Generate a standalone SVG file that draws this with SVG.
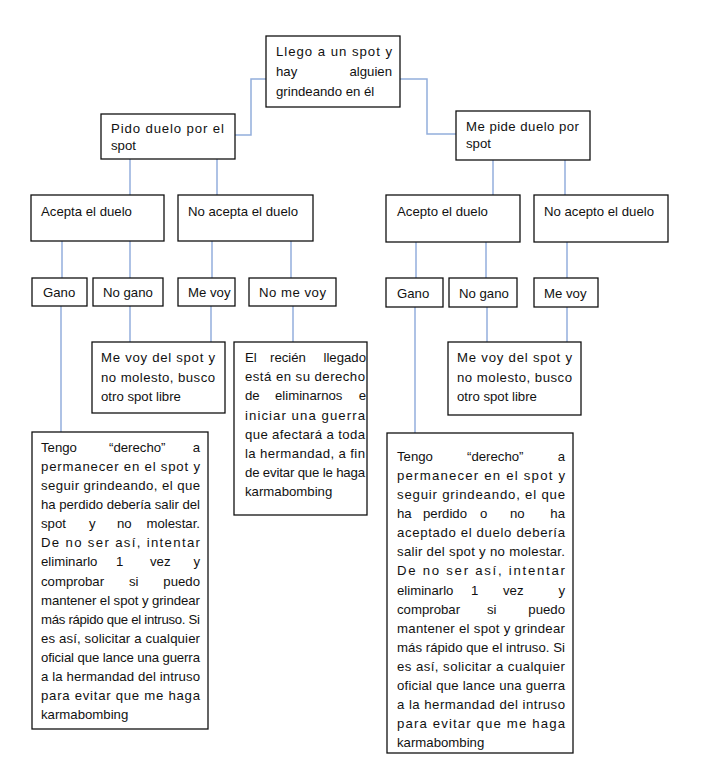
<svg xmlns="http://www.w3.org/2000/svg" width="725" height="777" viewBox="0 0 725 777">
<style>
.box{fill:#fff;stroke:#111;stroke-width:1.3}
.ln{fill:none;stroke:#93aedc;stroke-width:1.5}
text{font-family:"Liberation Sans",Arial,sans-serif;font-size:13.2px;fill:#111}
.e{text-anchor:end}
</style>
<rect width="725" height="777" fill="#fff"/>
<g id="connectors">
<polyline class="ln" points="266,79 251,79 251,135 235,135"/>
<polyline class="ln" points="400,79 427,79 427,134 456,134"/>
<line class="ln" x1="130" y1="159" x2="130" y2="195"/>
<line class="ln" x1="217" y1="159" x2="217" y2="195"/>
<line class="ln" x1="493" y1="160" x2="493" y2="195"/>
<line class="ln" x1="565" y1="160" x2="565" y2="195"/>
<line class="ln" x1="62" y1="241" x2="62" y2="278"/>
<line class="ln" x1="130" y1="241" x2="130" y2="278"/>
<line class="ln" x1="212" y1="241" x2="212" y2="278"/>
<line class="ln" x1="291" y1="241" x2="291" y2="278"/>
<line class="ln" x1="416" y1="242" x2="416" y2="278"/>
<line class="ln" x1="486" y1="242" x2="486" y2="278"/>
<line class="ln" x1="567" y1="242" x2="567" y2="278"/>
<line class="ln" x1="61" y1="306" x2="61" y2="432"/>
<line class="ln" x1="130" y1="306" x2="130" y2="342"/>
<line class="ln" x1="211" y1="306" x2="211" y2="342"/>
<line class="ln" x1="293" y1="306" x2="293" y2="342"/>
<line class="ln" x1="415" y1="307" x2="415" y2="433"/>
<line class="ln" x1="487" y1="307" x2="487" y2="342"/>
<line class="ln" x1="567" y1="307" x2="567" y2="342"/>
</g>
<g id="n-root">
<rect class="box" x="266" y="36" width="134" height="71"/>
<text x="276" y="56" textLength="116" lengthAdjust="spacing">Llego a un spot y</text>
<text x="276" y="76">hay</text><text class="e" x="392" y="76">alguien</text>
<text x="276" y="96">grindeando en él</text>
</g>
<g id="n-pido">
<rect class="box" x="101" y="114" width="134" height="45"/>
<text x="111" y="133" textLength="113" lengthAdjust="spacing">Pido duelo por el</text>
<text x="111" y="150">spot</text>
</g>
<g id="n-mepide">
<rect class="box" x="456" y="111" width="134" height="49"/>
<text x="466" y="131" textLength="113" lengthAdjust="spacing">Me pide duelo por</text>
<text x="466" y="148">spot</text>
</g>
<g id="n-acepta">
<rect class="box" x="31" y="195" width="133" height="46"/>
<text x="41" y="216">Acepta el duelo</text>
</g>
<g id="n-noacepta">
<rect class="box" x="178" y="195" width="135" height="46"/>
<text x="188" y="216">No acepta el duelo</text>
</g>
<g id="n-acepto">
<rect class="box" x="386" y="195" width="134" height="47"/>
<text x="397" y="216">Acepto el duelo</text>
</g>
<g id="n-noacepto">
<rect class="box" x="534" y="195" width="134" height="47"/>
<text x="544" y="216">No acepto el duelo</text>
</g>
<g id="n-gano-l">
<rect class="box" x="32" y="278" width="55" height="28"/>
<text x="43" y="297">Gano</text>
</g>
<g id="n-nogano-l">
<rect class="box" x="93" y="278" width="70" height="28"/>
<text x="103" y="297">No gano</text>
</g>
<g id="n-mevoy-l">
<rect class="box" x="178" y="278" width="57" height="28"/>
<text x="188" y="297">Me voy</text>
</g>
<g id="n-nomevoy">
<rect class="box" x="249" y="278" width="87" height="28"/>
<text x="259" y="297" textLength="67" lengthAdjust="spacing">No me voy</text>
</g>
<g id="n-gano-r">
<rect class="box" x="386" y="278" width="57" height="29"/>
<text x="397" y="298">Gano</text>
</g>
<g id="n-nogano-r">
<rect class="box" x="449" y="278" width="68" height="29"/>
<text x="459" y="298">No gano</text>
</g>
<g id="n-mevoy-r">
<rect class="box" x="534" y="278" width="64" height="29"/>
<text x="544" y="298">Me voy</text>
</g>
<g id="n-mevoydel-l">
<rect class="box" x="92" y="342" width="133" height="71"/>
<text x="101" y="362" textLength="114" lengthAdjust="spacing">Me voy del spot y</text>
<text x="101" y="381.5" textLength="114" lengthAdjust="spacing">no molesto, busco</text>
<text x="101" y="401">otro spot libre</text>
</g>
<g id="n-mevoydel-r">
<rect class="box" x="448" y="342" width="133" height="73"/>
<text x="457" y="362" textLength="115" lengthAdjust="spacing">Me voy del spot y</text>
<text x="457" y="382" textLength="115" lengthAdjust="spacing">no molesto, busco</text>
<text x="457" y="401">otro spot libre</text>
</g>
<g id="n-recien">
<rect class="box" x="234" y="342" width="133" height="173"/>
<text x="245" y="362">El</text><text x="270" y="362">recién</text><text class="e" x="366" y="362">llegado</text>
<text x="245" y="381.2" textLength="120" lengthAdjust="spacing">está en su derecho</text>
<text x="245" y="400.3">de</text><text x="275" y="400.3">eliminarnos</text><text class="e" x="366" y="400.3">e</text>
<text x="245" y="419.5" textLength="120" lengthAdjust="spacing">iniciar una guerra</text>
<text x="245" y="438.6" textLength="120" lengthAdjust="spacing">que afectará a toda</text>
<text x="245" y="457.8" textLength="120" lengthAdjust="spacing">la hermandad, a fin</text>
<text x="245" y="476.9" textLength="120" lengthAdjust="spacing">de evitar que le haga</text>
<text x="245" y="496">karmabombing</text>
</g>
<g id="n-tengo-l">
<rect class="box" x="32" y="432" width="176" height="297"/>
<text x="41" y="452">Tengo</text><text x="109" y="452">“derecho”</text><text class="e" x="200" y="452">a</text>
<text x="41" y="471.1" textLength="159" lengthAdjust="spacing">permanecer en el spot y</text>
<text x="41" y="490.1" textLength="159" lengthAdjust="spacing">seguir grindeando, el que</text>
<text x="41" y="509.2" textLength="159" lengthAdjust="spacing">ha perdido debería salir del</text>
<text x="41" y="528.3">spot</text><text x="89" y="528.3">y</text><text x="117" y="528.3">no</text><text class="e" x="200" y="528.3">molestar.</text>
<text x="41" y="547.4" textLength="159" lengthAdjust="spacing">De no ser así, intentar</text>
<text x="41" y="566.4">eliminarlo</text><text x="116" y="566.4">1</text><text x="150" y="566.4">vez</text><text class="e" x="200" y="566.4">y</text>
<text x="41" y="585.5">comprobar</text><text x="129" y="585.5">si</text><text class="e" x="200" y="585.5">puedo</text>
<text x="41" y="604.6" textLength="159" lengthAdjust="spacing">mantener el spot y grindear</text>
<text x="41" y="623.6" textLength="159" lengthAdjust="spacing">más rápido que el intruso. Si</text>
<text x="41" y="642.7" textLength="159" lengthAdjust="spacing">es así, solicitar a cualquier</text>
<text x="41" y="661.8" textLength="159" lengthAdjust="spacing">oficial que lance una guerra</text>
<text x="41" y="680.8" textLength="159" lengthAdjust="spacing">a la hermandad del intruso</text>
<text x="41" y="699.9" textLength="159" lengthAdjust="spacing">para evitar que me haga</text>
<text x="41" y="719">karmabombing</text>
</g>
<g id="n-tengo-r">
<rect class="box" x="387" y="433" width="186" height="320"/>
<text x="397" y="461">Tengo</text><text x="467" y="461">“derecho”</text><text class="e" x="565" y="461">a</text>
<text x="397" y="480.1" textLength="168" lengthAdjust="spacing">permanecer en el spot y</text>
<text x="397" y="499.1" textLength="168" lengthAdjust="spacing">seguir grindeando, el que</text>
<text x="397" y="518.2">ha</text><text x="423" y="518.2">perdido</text><text x="480" y="518.2">o</text><text x="510" y="518.2">no</text><text class="e" x="565" y="518.2">ha</text>
<text x="397" y="537.3" textLength="168" lengthAdjust="spacing">aceptado el duelo debería</text>
<text x="397" y="556.4" textLength="168" lengthAdjust="spacing">salir del spot y no molestar.</text>
<text x="397" y="575.4" textLength="168" lengthAdjust="spacing">De no ser así, intentar</text>
<text x="397" y="594.5">eliminarlo</text><text x="471" y="594.5">1</text><text x="503" y="594.5">vez</text><text class="e" x="565" y="594.5">y</text>
<text x="397" y="613.6">comprobar</text><text x="487" y="613.6">si</text><text class="e" x="565" y="613.6">puedo</text>
<text x="397" y="632.6" textLength="168" lengthAdjust="spacing">mantener el spot y grindear</text>
<text x="397" y="651.7" textLength="168" lengthAdjust="spacing">más rápido que el intruso. Si</text>
<text x="397" y="670.8" textLength="168" lengthAdjust="spacing">es así, solicitar a cualquier</text>
<text x="397" y="689.8" textLength="168" lengthAdjust="spacing">oficial que lance una guerra</text>
<text x="397" y="708.9" textLength="168" lengthAdjust="spacing">a la hermandad del intruso</text>
<text x="397" y="728" textLength="168" lengthAdjust="spacing">para evitar que me haga</text>
<text x="397" y="747">karmabombing</text>
</g>
</svg>
